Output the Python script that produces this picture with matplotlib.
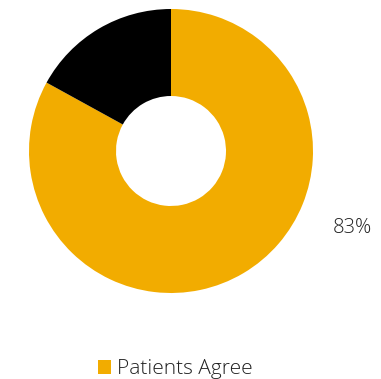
import matplotlib
matplotlib.use("Agg")
from matplotlib import pyplot as plt
from matplotlib.patches import Patch

# data
labels = ["Patients Agree", "Other"]
values = [83, 17]
colors = ["#F2AC00", "#000000"]
pct_label = "83%"

W, H = 381, 379
fig = plt.figure(figsize=(W / 100, H / 100), dpi=100)
plt.rcParams["font.family"] = ["Open Sans", "DejaVu Sans"]

# donut centred at (171, 151) px, outer radius 142 px
cx, cy, r = 171, 151, 142
ax = fig.add_axes([(cx - r) / W, (H - cy - r) / H, 2 * r / W, 2 * r / H])
ax.pie(
    values,
    colors=colors,
    startangle=90,
    counterclock=False,
    radius=1.0,
    wedgeprops=dict(width=1 - 55 / 142, linewidth=0),
)
ax.set_xlim(-1, 1)
ax.set_ylim(-1, 1)
ax.set_aspect("equal")
ax.axis("off")

ax.text(1.28, -0.54, pct_label, ha="center", va="center",
        fontsize=14.5, fontweight="light", color="#222222", clip_on=False)

handles = [Patch(facecolor=colors[0], edgecolor="none")]
fig.legend(
    handles, [labels[0]],
    loc="center", bbox_to_anchor=(0.46, 1 - 369 / H),
    frameon=False, prop=dict(size=15, weight="light"),
    handlelength=0.65, handleheight=0.65, handletextpad=0.3,
    labelcolor="#222222",
)

fig.savefig("out.png", dpi=100)
